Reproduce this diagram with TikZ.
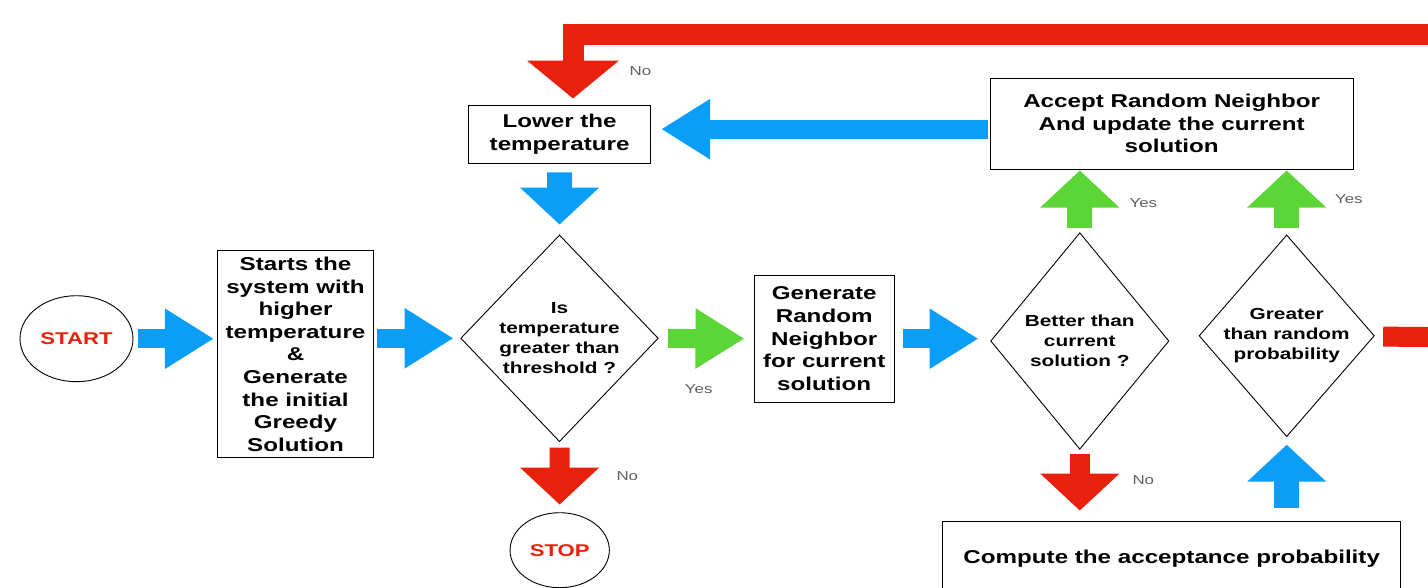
\documentclass[tikz,border=0pt]{standalone}
\usepackage{fontspec}
\setmainfont{Liberation Sans}[FakeStretch=1.3]
\usetikzlibrary{shapes.geometric,arrows.meta}

\definecolor{flowred}{RGB}{232,32,12}
\definecolor{flowblue}{RGB}{10,158,248}
\definecolor{flowgreen}{RGB}{92,214,54}
\definecolor{flowgray}{RGB}{96,96,96}

\tikzset{
  procbox/.style={draw, line width=0.9pt, inner sep=0pt, align=center,
    font=\fontsize{18.6}{22.6}\selectfont\bfseries},
  decision/.style={draw, diamond, line width=0.9pt, inner sep=0pt, align=center,
    font=\fontsize{16}{20}\selectfont\bfseries},
  terminal/.style={draw, ellipse, line width=0.9pt, inner sep=0pt, text=flowred,
    font=\fontsize{17}{20}\selectfont\bfseries},
  answer/.style={text=flowgray, font=\fontsize{13}{15}\selectfont},
  harrow/.style={line width=19pt, -{Triangle[length=49pt,width=57pt]}},
  varrow/.style={line width=25pt, -{Triangle[length=37pt,width=77pt]}},
}

\begin{document}
\begin{tikzpicture}[x=1pt,y=-1pt]
    \useasboundingbox (0,0) rectangle (1428,587);
    \clip (0,0) rectangle (1428,587);

    % main row
    \node[terminal, minimum width=113pt, minimum height=86pt] (start) at (76.5,338.7) {START};
    \node[procbox, minimum width=155.6pt, minimum height=207pt] (init) at (295.5,354.2)
      {Starts the\\system with\\higher\\temperature\\\&\\Generate\\the initial\\Greedy\\Solution};
    \node[decision, minimum width=197.6pt, minimum height=206.7pt] (check) at (559.5,338.3)
      {Is\\temperature\\greater than\\threshold ?};
    \node[procbox, minimum width=139.7pt, minimum height=127.3pt] (gen) at (824.2,338.7)
      {Generate\\Random\\Neighbor\\for current\\solution};
    \node[decision, minimum width=178.3pt, minimum height=216.6pt] (better) at (1079.8,341)
      {Better than\\current\\solution ?};
    \node[decision, minimum width=175.3pt, minimum height=201.7pt, inner xsep=-6pt] (greater) at (1286.7,335.8)
      {Greater\\than random\\probability};

    % upper and lower nodes
    \node[terminal, minimum width=99.3pt, minimum height=75pt] (stop) at (559.7,550.2) {STOP};
    \node[procbox, minimum width=182pt, minimum height=58pt] (lower) at (559.6,134)
      {Lower the\\temperature};
    \node[procbox, minimum width=363.3pt, minimum height=90.7pt] (accept) at (1171.7,123.7)
      {Accept Random Neighbor\\And update the current\\solution};
    \node[procbox, minimum width=458pt, minimum height=73.3pt] (compute) at (1171.7,558.3)
      {Compute the acceptance probability};

    % answers
    \node[answer] (yes1) at (698.7,389) {Yes};
    \node[answer] (no1) at (627.3,476) {No};
    \node[answer] (no2) at (640.5,71) {No};
    \node[answer] (yes2) at (1143.3,202.7) {Yes};
    \node[answer] (yes3) at (1348.8,199.3) {Yes};
    \node[answer] (no3) at (1143.3,480) {No};

    \coordinate (exitR) at (1428,337);
    \coordinate (loopR) at (1428,34);

    \draw[harrow, flowblue, shorten <=4.3pt, shorten >=3.4pt] (start) -- (init.west |- start);
    \draw[harrow, flowblue, shorten <=3.4pt, shorten >=6.7pt] (init.east |- check) -- (check);
    \draw[harrow, flowgreen, shorten <=9.4pt, shorten >=9.4pt] (check) -- (gen);
    \draw[harrow, flowblue, shorten <=8.3pt, shorten >=11.7pt] (gen) -- (gen -| better.west);
    \draw[varrow, flowgreen, shorten <=4.4pt, shorten >=1pt] (better.north) -- (better.north |- accept.south);
    \draw[varrow, flowgreen, shorten <=6.6pt, shorten >=1pt] (greater.north) -- (greater.north |- accept.south);
    \draw[varrow, flowred, line width=20pt, shorten <=4pt, shorten >=10.6pt] (better.south) -- (better.south |- compute.north);
    \draw[varrow, flowblue, shorten <=13.3pt, shorten >=7.6pt] (greater.south |- compute.north) -- (greater.south);
    \draw[flowred, line width=20pt, shorten <=9pt] (greater) -- (exitR);
    \draw[flowred, line width=21pt, -{Triangle[length=38pt,width=90pt]}, shorten >=6pt]
      (loopR) -| ([xshift=13.4pt]lower.north);
    \draw[harrow, flowblue, shorten <=1.7pt, shorten >=10.1pt]
      ([yshift=-5.45pt]accept.west) -- ([yshift=-5.45pt]accept.west -| lower.east);
    \draw[varrow, flowblue, shorten <=9pt, shorten >=10pt] (lower) -- (check);
    \draw[varrow, flowred, line width=20pt, shorten <=5.7pt, shorten >=7.7pt] (check) -- (stop);
\end{tikzpicture}
\end{document}
